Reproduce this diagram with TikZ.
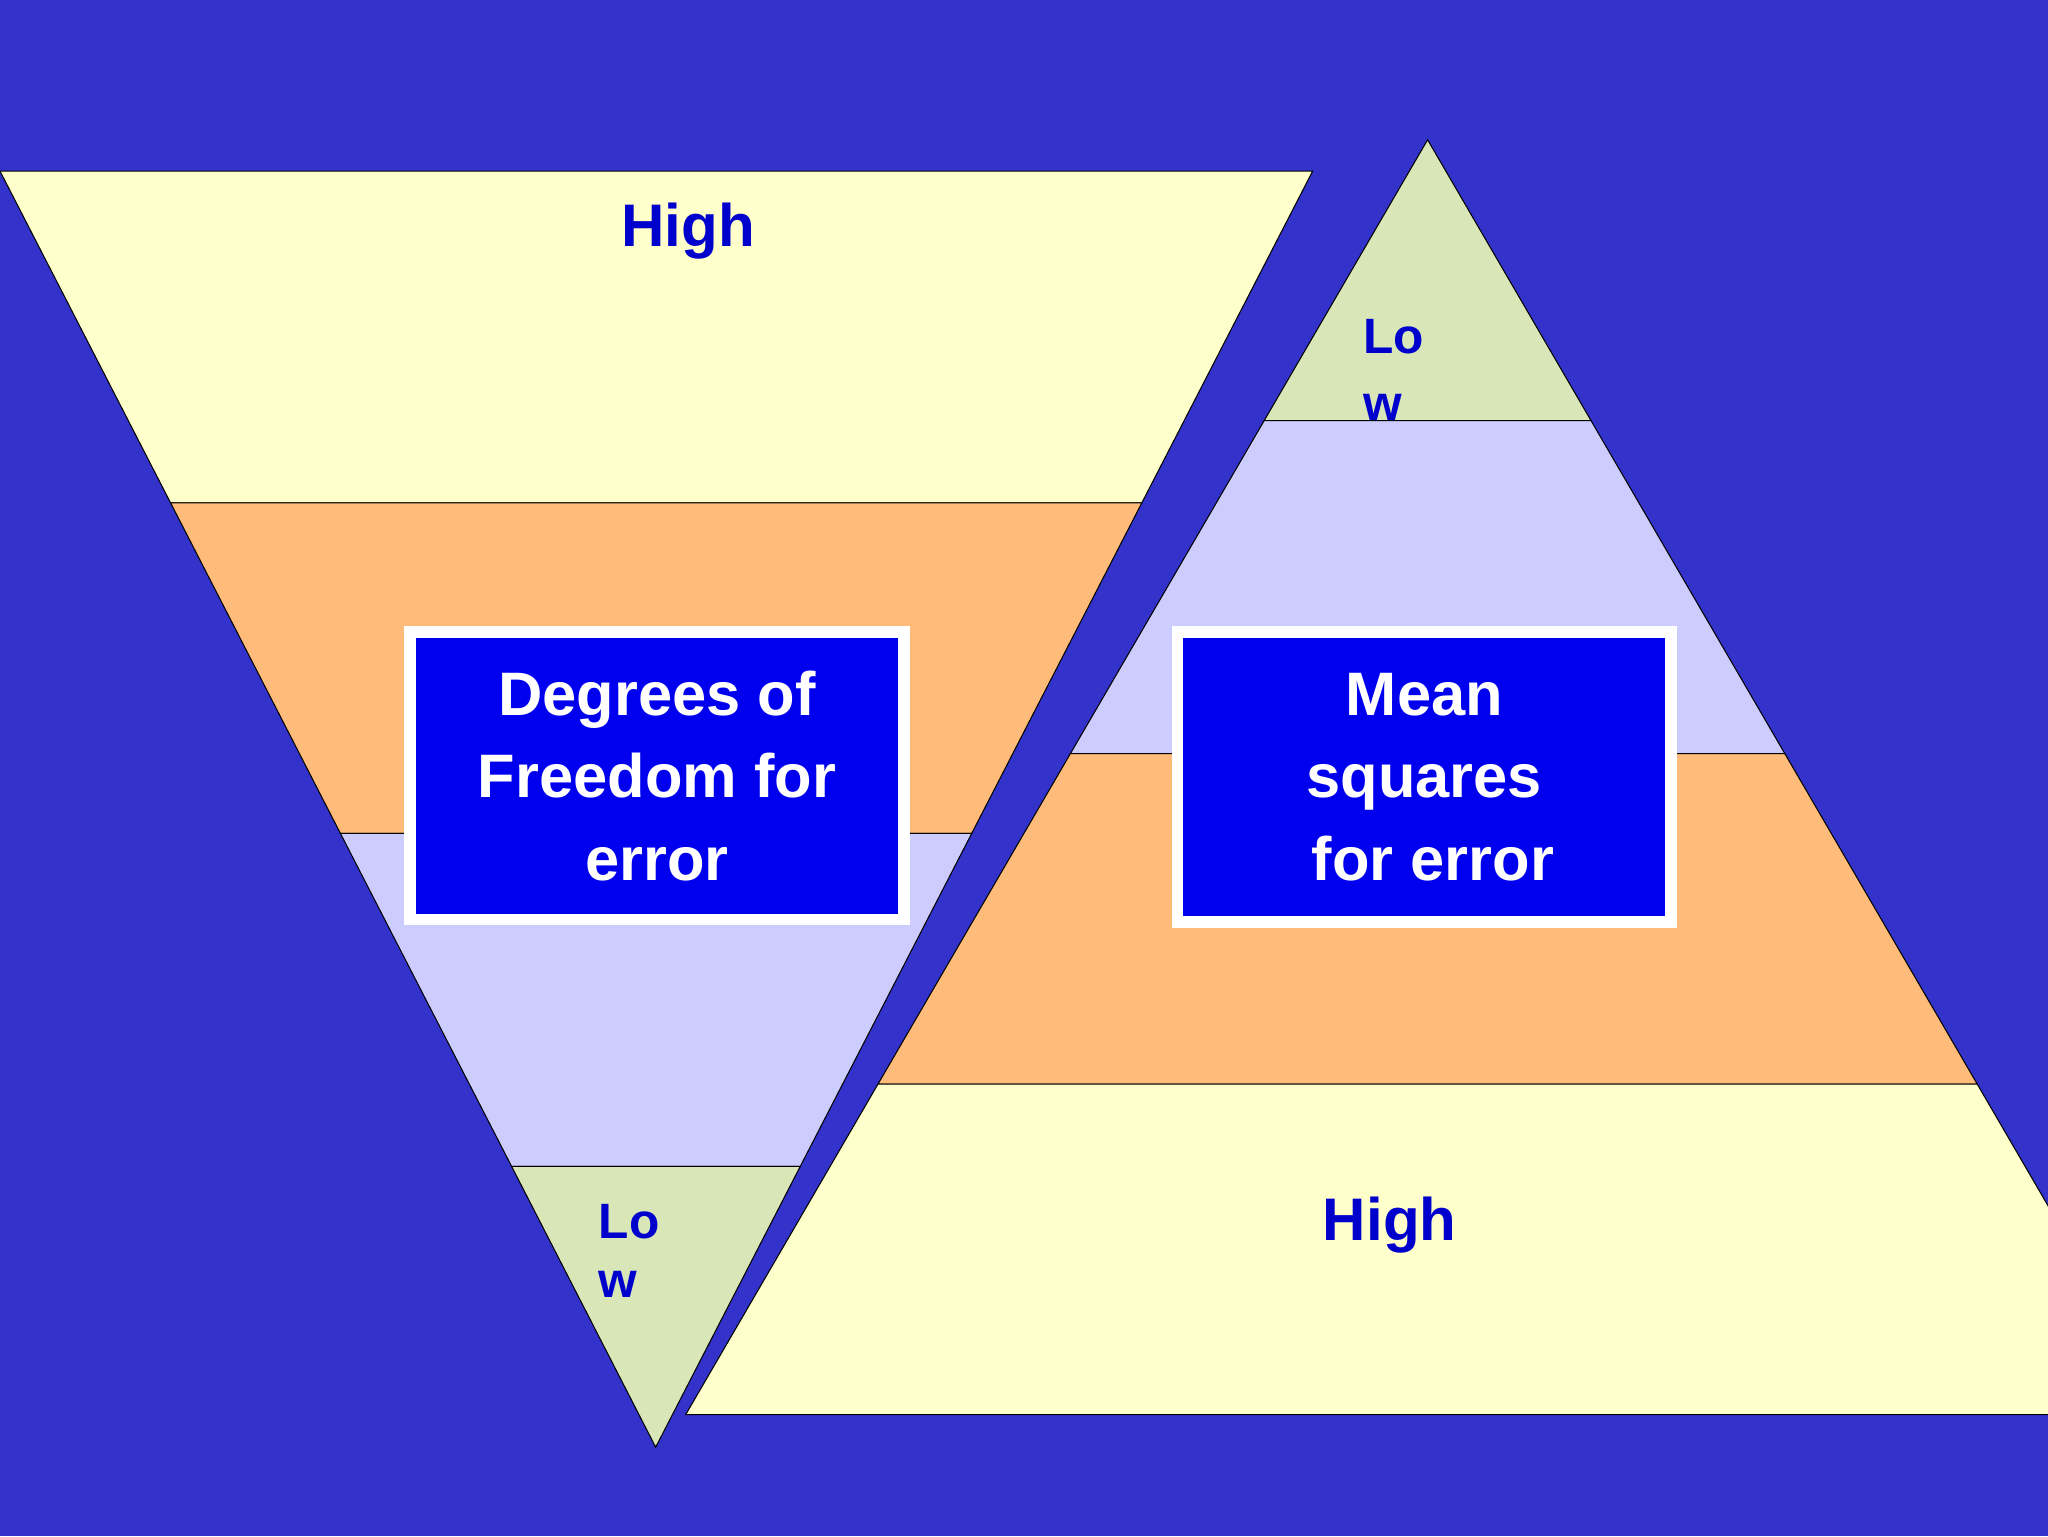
\documentclass[tikz,border=0pt]{standalone}
\usepackage{fontspec}
\setmainfont{Liberation Sans}
\definecolor{bg}{HTML}{3333CC}
\definecolor{ylw}{HTML}{FFFFCC}
\definecolor{org}{HTML}{FFBB7A}
\definecolor{lav}{HTML}{CCCCFF}
\definecolor{grn}{HTML}{D8E6B8}
\definecolor{boxblue}{HTML}{0000EE}
\definecolor{lbl}{HTML}{0000CC}
\tikzset{band/.style={draw=black,line width=0.8pt},
 lbltext/.style={text=lbl,font=\fontsize{46}{50}\selectfont\bfseries},
 lotext/.style={text=lbl,font=\fontsize{38}{48}\selectfont\bfseries,anchor=west},
 infobox/.style={fill=boxblue,draw=white,line width=9pt,text=white,align=center,
   font=\fontsize{47}{63}\selectfont\bfseries,inner sep=0pt}}
\begin{document}
\begin{tikzpicture}[x=1pt,y=-1pt]
\useasboundingbox (0,0) rectangle (1568,1176);
\begin{scope}
\clip (0,0) rectangle (1568,1176);
\fill[bg] (0,0) rectangle (1568,1176);
% inverted triangle
\draw[band,fill=ylw] (0,131) -- (1005,131) -- (874.2,385) -- (130.6,385) -- cycle;
\draw[band,fill=org] (130.6,385) -- (874.2,385) -- (744,638) -- (260.6,638) -- cycle;
\draw[band,fill=lav] (260.6,638) -- (744,638) -- (612.7,893) -- (391.7,893) -- cycle;
\draw[band,fill=grn] (391.7,893) -- (612.7,893) -- (502,1108) -- cycle;
% pyramid
\draw[band,fill=grn] (1093,107) -- (1218.1,322) -- (967.9,322) -- cycle;
\node[lotext] (lo1) at (1040,258) {Lo};
\node[lotext] (w1) at (1040,312) {w};
\draw[band,fill=lav] (967.9,322) -- (1218.1,322) -- (1366.5,577) -- (819.5,577) -- cycle;
\draw[band,fill=org] (819.5,577) -- (1366.5,577) -- (1513.8,830) -- (672.2,830) -- cycle;
\draw[band,fill=ylw] (672.2,830) -- (1513.8,830) -- (1661,1083) -- (525,1083) -- cycle;
\end{scope}
\node[lbltext] (high1) at (527,177) {High};
\node[lbltext] (high2) at (1064,938) {High};
\node[lotext] (lo2) at (455,935) {Lo};
\node[lotext] (w2) at (455,983) {w};
\node[infobox,minimum width=378pt,minimum height=220pt] (dfbox) at (503,594)
 {Degrees of\\Freedom for\\error};
\node[infobox,minimum width=378pt,minimum height=222pt] (msbox) at (1090.5,595)
 {Mean\\squares\\\ for error};
\end{tikzpicture}
\end{document}
